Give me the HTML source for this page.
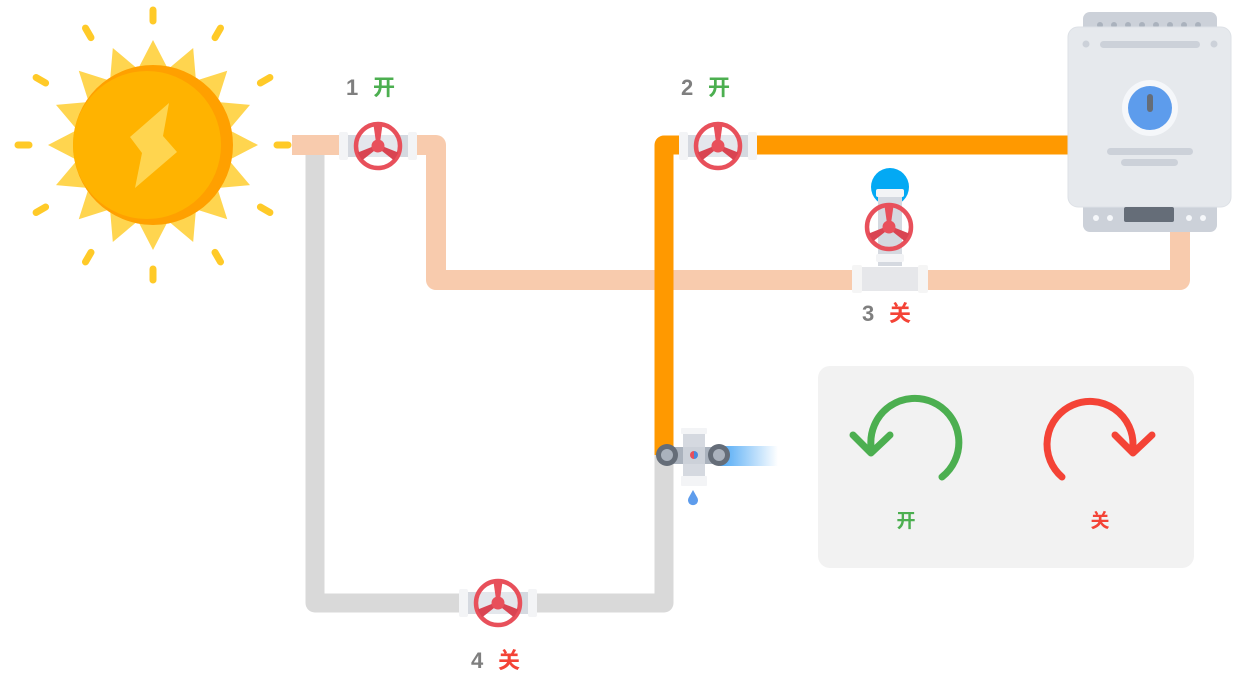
<!DOCTYPE html>
<html><head><meta charset="utf-8"><style>
html,body{margin:0;padding:0;background:#fff;}
svg{display:block;}
text{font-family:"Liberation Sans","Noto Sans CJK SC",sans-serif;font-weight:bold;}
</style></head><body>
<svg width="1248" height="686" viewBox="0 0 1248 686" xmlns="http://www.w3.org/2000/svg">
<defs>
  <linearGradient id="jet" x1="0" x2="1" y1="0" y2="0">
    <stop offset="0" stop-color="#4DA8F5"/><stop offset="1" stop-color="#4DA8F5" stop-opacity="0"/>
  </linearGradient>
  <g id="wheel">
    <circle cx="0" cy="0" r="22" fill="none" stroke="#E8505B" stroke-width="4.5"/>
    <polygon points="-4.5,-21 4.5,-21 1.5,0 -1.5,0" fill="#E8505B"/>
    <polygon points="-4.5,-21 4.5,-21 1.5,0 -1.5,0" fill="#D94452" transform="rotate(120)"/>
    <polygon points="-4.5,-21 4.5,-21 1.5,0 -1.5,0" fill="#D94452" transform="rotate(240)"/>
    <circle cx="0" cy="0" r="6.5" fill="#E8505B"/>
  </g>
  <g id="body">
    <rect x="-36" y="-11" width="72" height="22" fill="#D5D9E0"/>
    <rect x="-20" y="-11" width="40" height="22" fill="#E4E7EC"/>
    <rect x="-39" y="-14" width="9" height="28" rx="2" fill="#F3F4F6"/>
    <rect x="30" y="-14" width="9" height="28" rx="2" fill="#F3F4F6"/>
  </g>
  <g id="spike"><polygon points="153,40 138,69 168,69" fill="#FFD54F"/></g>
  <g id="dash"><line x1="153" y1="10" x2="153" y2="21" stroke="#FFCA28" stroke-width="7" stroke-linecap="round"/></g>
</defs>

<g>
  <use href="#spike"/><use href="#spike" transform="rotate(22.5 153 145)"/><use href="#spike" transform="rotate(45 153 145)"/><use href="#spike" transform="rotate(67.5 153 145)"/>
  <use href="#spike" transform="rotate(90 153 145)"/><use href="#spike" transform="rotate(112.5 153 145)"/><use href="#spike" transform="rotate(135 153 145)"/><use href="#spike" transform="rotate(157.5 153 145)"/>
  <use href="#spike" transform="rotate(180 153 145)"/><use href="#spike" transform="rotate(202.5 153 145)"/><use href="#spike" transform="rotate(225 153 145)"/><use href="#spike" transform="rotate(247.5 153 145)"/>
  <use href="#spike" transform="rotate(270 153 145)"/><use href="#spike" transform="rotate(292.5 153 145)"/><use href="#spike" transform="rotate(315 153 145)"/><use href="#spike" transform="rotate(337.5 153 145)"/>
  <use href="#dash"/><use href="#dash" transform="rotate(30 153 145)"/><use href="#dash" transform="rotate(60 153 145)"/><use href="#dash" transform="rotate(90 153 145)"/>
  <use href="#dash" transform="rotate(120 153 145)"/><use href="#dash" transform="rotate(150 153 145)"/><use href="#dash" transform="rotate(180 153 145)"/><use href="#dash" transform="rotate(210 153 145)"/>
  <use href="#dash" transform="rotate(240 153 145)"/><use href="#dash" transform="rotate(270 153 145)"/><use href="#dash" transform="rotate(300 153 145)"/><use href="#dash" transform="rotate(330 153 145)"/>
  <circle cx="153" cy="145" r="80" fill="#FFA000"/>
  <circle cx="147" cy="145" r="74" fill="#FFB300"/>
  <polygon points="169,103 130,137 142,153 135,188 177,152 163,136" fill="#FFD54F"/>
</g>

<path d="M315 150 V603 H664 V455" fill="none" stroke="#D9D9D9" stroke-width="19" stroke-linejoin="round"/>
<path d="M292 145 H436 V280 H1180 V225" fill="none" stroke="#F8CBAD" stroke-width="20" stroke-linejoin="round"/>
<rect x="655" y="270" width="18" height="20" fill="#E8B89A" opacity="0.6"/>
<path d="M664 455 V145 H1075" fill="none" stroke="#FF9900" stroke-width="19" stroke-linejoin="round"/>

<rect x="1083" y="12" width="134" height="30" rx="7" fill="#CCD1D9"/>
<g fill="#AAB2BD"><circle cx="1100" cy="25" r="3"/><circle cx="1114" cy="25" r="3"/><circle cx="1128" cy="25" r="3"/><circle cx="1142" cy="25" r="3"/><circle cx="1156" cy="25" r="3"/><circle cx="1170" cy="25" r="3"/><circle cx="1184" cy="25" r="3"/><circle cx="1198" cy="25" r="3"/></g>
<rect x="1083" y="195" width="134" height="37" rx="7" fill="#CCD1D9"/>
<rect x="1068" y="27" width="163" height="180" rx="10" fill="#E6E9ED" stroke="#DDE1E6" stroke-width="1"/>
<rect x="1124" y="207" width="50" height="15" rx="2" fill="#656D78"/>
<g fill="#F5F7FA"><circle cx="1096" cy="218" r="3"/><circle cx="1110" cy="218" r="3"/><circle cx="1189" cy="218" r="3"/><circle cx="1203" cy="218" r="3"/></g>
<circle cx="1086" cy="44" r="3.5" fill="#CCD1D9"/><circle cx="1214" cy="44" r="3.5" fill="#CCD1D9"/>
<rect x="1100" y="41" width="100" height="7" rx="3.5" fill="#CCD1D9"/>
<circle cx="1150" cy="108" r="28" fill="#F5F7FA"/>
<circle cx="1150" cy="108" r="22" fill="#5D9CEC"/>
<rect x="1147" y="94" width="6" height="18" rx="3" fill="#656D78"/>
<rect x="1107" y="148" width="86" height="7" rx="3.5" fill="#CCD1D9"/>
<rect x="1121" y="159" width="57" height="7" rx="3.5" fill="#CCD1D9"/>

<g transform="translate(378 146)"><use href="#body"/><use href="#wheel"/></g>
<g transform="translate(718 146)"><use href="#body"/><use href="#wheel"/></g>
<g transform="translate(498 603)"><use href="#body"/><use href="#wheel"/></g>

<circle cx="890" cy="187" r="19" fill="#03A9F4"/>
<rect x="878" y="190" width="24" height="76" fill="#D5D9E0"/>
<rect x="876" y="189" width="28" height="8" rx="2" fill="#F3F4F6"/>
<rect x="876" y="254" width="28" height="8" rx="2" fill="#F3F4F6"/>
<rect x="852" y="267" width="76" height="24" fill="#E6E7EA"/>
<rect x="852" y="265" width="10" height="28" rx="2" fill="#F5F5F5"/>
<rect x="918" y="265" width="10" height="28" rx="2" fill="#F5F5F5"/>
<g transform="translate(889 227)"><use href="#wheel"/></g>

<rect x="683" y="430" width="22" height="50" fill="#D5D9E0"/>
<rect x="681" y="428" width="26" height="6" rx="1" fill="#F3F4F6"/>
<rect x="681" y="476" width="26" height="10" rx="1" fill="#F3F4F6"/>
<rect x="720" y="446" width="58" height="20" fill="url(#jet)"/>
<rect x="666" y="447" width="54" height="17" fill="#AAB2BD"/>
<circle cx="667" cy="455" r="11" fill="#656D78"/><circle cx="667" cy="455" r="6" fill="#AAB2BD"/>
<circle cx="719" cy="455" r="11" fill="#656D78"/><circle cx="719" cy="455" r="6" fill="#AAB2BD"/>
<rect x="683" y="447" width="22" height="17" fill="#CCD1D9"/>
<path d="M694 451 a4 4 0 0 0 0 8z" fill="#E8505B"/><path d="M694 451 a4 4 0 0 1 0 8z" fill="#4A89DC"/>
<path d="M693 490 L688.5 498 A5 5 0 1 0 697.5 498 Z" fill="#5D9CEC"/>

<text x="346" y="95" font-size="22" fill="#7F7F7F">1</text><text x="373" y="95" font-size="22" fill="#4CAF50">开</text>
<text x="681" y="95" font-size="22" fill="#7F7F7F">2</text><text x="708" y="95" font-size="22" fill="#4CAF50">开</text>
<text x="862" y="321" font-size="22" fill="#7F7F7F">3</text><text x="889" y="321" font-size="22" fill="#F44336">关</text>
<text x="471" y="668" font-size="22" fill="#7F7F7F">4</text><text x="498" y="668" font-size="22" fill="#F44336">关</text>

<rect x="818" y="366" width="376" height="202" rx="12" fill="#F2F2F2"/>
<path d="M871 446 A44 44 0 1 1 942 477" fill="none" stroke="#4CAF50" stroke-width="7" stroke-linecap="round"/>
<polyline points="853,435 871,453 890,435" fill="none" stroke="#4CAF50" stroke-width="7" stroke-linecap="round" stroke-linejoin="round"/>
<path d="M1062 477 A43 43 0 1 1 1133 446" fill="none" stroke="#F44336" stroke-width="7" stroke-linecap="round"/>
<polyline points="1115,435 1133,453 1152,435" fill="none" stroke="#F44336" stroke-width="7" stroke-linecap="round" stroke-linejoin="round"/>
<text x="906" y="527" font-size="19" fill="#4CAF50" text-anchor="middle" font-weight="normal">开</text>
<text x="1100" y="527" font-size="19" fill="#F44336" text-anchor="middle" font-weight="normal">关</text>
</svg>
</body></html>
